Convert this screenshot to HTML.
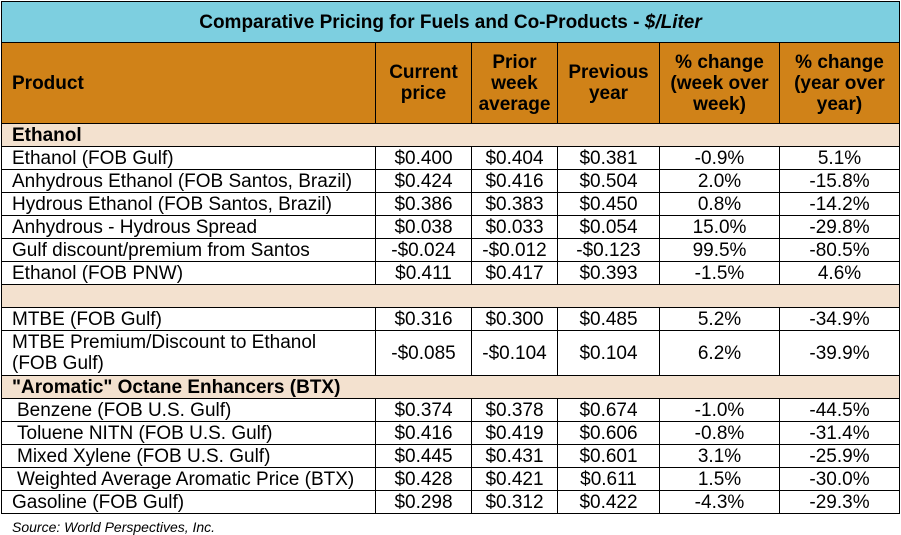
<!DOCTYPE html>
<html><head><style>
body{margin:0;background:#fff;width:901px;height:535px;overflow:hidden;font-family:"Liberation Sans",Arial,sans-serif;}
table{position:absolute;left:1px;top:1px;border-collapse:collapse;table-layout:fixed;width:898px;}
td{border:1px solid #000;padding:0;font-size:19px;color:#000;text-align:center;line-height:21px;overflow:hidden;white-space:nowrap;}
td.l{text-align:left;padding-left:10px;}
td.i{text-align:left;padding-left:15px;}
.t td{background:#7DCFE0;font-weight:bold;font-size:19px;}
.h td{background:#D08218;font-weight:bold;font-size:19px;line-height:21px;}
.s td{background:#F3E1CF;font-weight:bold;font-size:19px;text-align:left;padding-left:10px;}
tr{height:23px;}
.src{position:absolute;left:12px;top:519px;font-size:14px;font-style:italic;color:#000;}
</style></head><body>
<table>
<colgroup><col style="width:374px"><col style="width:96px"><col style="width:86px"><col style="width:102px"><col style="width:120px"><col style="width:120px"></colgroup>
<tr class="t" style="height:41px"><td colspan="6">Comparative Pricing for Fuels and Co-Products - <i>$/Liter</i></td></tr>
<tr class="h" style="height:81px"><td class="l">Product</td><td>Current<br>price</td><td>Prior<br>week<br>average</td><td>Previous<br>year</td><td>% change<br>(week over<br>week)</td><td>% change<br>(year over<br>year)</td></tr>
<tr class="s"><td colspan="6">Ethanol</td></tr>
<tr><td class="l">Ethanol (FOB Gulf)</td><td>$0.400</td><td>$0.404</td><td>$0.381</td><td>-0.9%</td><td>5.1%</td></tr>
<tr><td class="l">Anhydrous Ethanol (FOB Santos, Brazil)</td><td>$0.424</td><td>$0.416</td><td>$0.504</td><td>2.0%</td><td>-15.8%</td></tr>
<tr><td class="l">Hydrous Ethanol (FOB Santos, Brazil)</td><td>$0.386</td><td>$0.383</td><td>$0.450</td><td>0.8%</td><td>-14.2%</td></tr>
<tr><td class="l">Anhydrous - Hydrous Spread</td><td>$0.038</td><td>$0.033</td><td>$0.054</td><td>15.0%</td><td>-29.8%</td></tr>
<tr><td class="l">Gulf discount/premium from Santos</td><td>-$0.024</td><td>-$0.012</td><td>-$0.123</td><td>99.5%</td><td>-80.5%</td></tr>
<tr><td class="l">Ethanol (FOB PNW)</td><td>$0.411</td><td>$0.417</td><td>$0.393</td><td>-1.5%</td><td>4.6%</td></tr>
<tr class="s"><td colspan="6"></td></tr>
<tr><td class="l">MTBE (FOB Gulf)</td><td>$0.316</td><td>$0.300</td><td>$0.485</td><td>5.2%</td><td>-34.9%</td></tr>
<tr style="height:45px"><td class="l">MTBE Premium/Discount to Ethanol<br>(FOB Gulf)</td><td>-$0.085</td><td>-$0.104</td><td>$0.104</td><td>6.2%</td><td>-39.9%</td></tr>
<tr class="s"><td colspan="6">"Aromatic" Octane Enhancers (BTX)</td></tr>
<tr><td class="i">Benzene (FOB U.S. Gulf)</td><td>$0.374</td><td>$0.378</td><td>$0.674</td><td>-1.0%</td><td>-44.5%</td></tr>
<tr><td class="i">Toluene NITN (FOB U.S. Gulf)</td><td>$0.416</td><td>$0.419</td><td>$0.606</td><td>-0.8%</td><td>-31.4%</td></tr>
<tr><td class="i">Mixed Xylene (FOB U.S. Gulf)</td><td>$0.445</td><td>$0.431</td><td>$0.601</td><td>3.1%</td><td>-25.9%</td></tr>
<tr><td class="i">Weighted Average Aromatic Price (BTX)</td><td>$0.428</td><td>$0.421</td><td>$0.611</td><td>1.5%</td><td>-30.0%</td></tr>
<tr><td class="l">Gasoline (FOB Gulf)</td><td>$0.298</td><td>$0.312</td><td>$0.422</td><td>-4.3%</td><td>-29.3%</td></tr>
</table>
<div class="src">Source: World Perspectives, Inc.</div>
</body></html>
